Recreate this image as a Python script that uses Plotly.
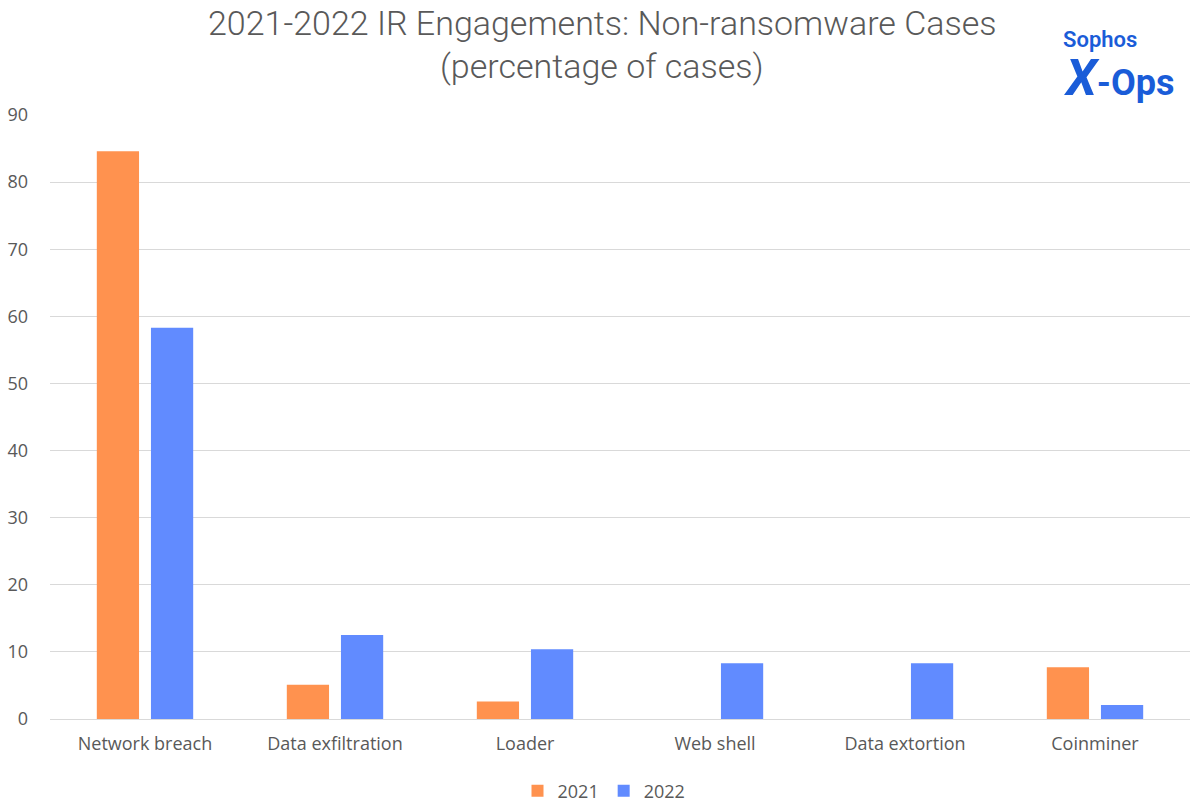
import plotly.graph_objects as go

categories = ["Network breach", "Data exfiltration", "Loader", "Web shell", "Data extortion", "Coinminer"]
values_2021 = [84.6, 5.1, 2.6, 0, 0, 7.7]
values_2022 = [58.3, 12.5, 10.4, 8.3, 8.3, 2.1]
y_ticks = [0, 10, 20, 30, 40, 50, 60, 70, 80, 90]

gray = "#595959"
W, H = 1200, 805
L, R, T, B = 50, 10, 115, 86
PW, PH = W - L - R, H - T - B


def px(xp):  # page x -> paper x
    return (xp - L) / PW


def py(yp):  # page y -> paper y
    return (H - B - yp) / PH


fig = go.Figure()
fig.add_trace(go.Bar(name="2021", x=categories, y=values_2021, marker=dict(color="#FF924F", line=dict(width=0))))
fig.add_trace(go.Bar(name="2022", x=categories, y=values_2022, marker=dict(color="#618BFF", line=dict(width=0))))

fig.update_layout(
    width=W, height=H,
    margin=dict(l=L, r=R, t=T, b=B),
    paper_bgcolor="white", plot_bgcolor="white",
    barmode="group", bargap=0.43, bargroupgap=0.22,
    font=dict(family="Open Sans, Liberation Sans, sans-serif", color=gray, size=18),
    xaxis=dict(showgrid=False, showline=False, ticks="", automargin=False, ticklabelstandoff=12,
               tickfont=dict(size=18, color=gray)),
    yaxis=dict(range=[0, 90], tickvals=y_ticks, showgrid=True, gridcolor="#D9D9D9", gridwidth=1,
               zeroline=True, zerolinecolor="#D9D9D9", zerolinewidth=1, automargin=False,
               ticks="", ticklabelstandoff=21, tickfont=dict(size=18, color=gray)),
    legend=dict(orientation="h", xref="paper", x=px(604), xanchor="center",
                yref="container", y=(H - 791) / H, yanchor="middle",
                font=dict(size=18, color=gray), itemwidth=30, traceorder="normal"),
)

# title as two paper-referenced lines
title_font = dict(family="Roboto", size=34, color=gray, weight=300)
fig.add_annotation(text="2021-2022 IR Engagements: Non-ransomware Cases", xref="paper", yref="paper",
                   x=px(602), y=py(23), xanchor="center", yanchor="middle", showarrow=False, font=title_font)
fig.add_annotation(text="(percentage of cases)", xref="paper", yref="paper",
                   x=px(602), y=py(66), xanchor="center", yanchor="middle", showarrow=False, font=title_font)

# logo
fig.add_annotation(text="Sophos", xref="paper", yref="paper", x=px(1061), y=py(40),
                   xanchor="left", yanchor="middle", showarrow=False,
                   font=dict(family="Roboto", size=22, color="#1A5CD8", weight=600))
fig.add_annotation(text="<b><i><span style='font-size:50px'>X</span></i>-Ops</b>", xref="paper", yref="paper",
                   x=px(1062), y=py(78),
                   xanchor="left", yanchor="middle", showarrow=False,
                   font=dict(family="Roboto", size=36, color="#1A5CD8"))

fig.write_html("out.html", config={"displayModeBar": False},
               post_script="document.body.style.margin='0';document.body.style.overflow='hidden';")
